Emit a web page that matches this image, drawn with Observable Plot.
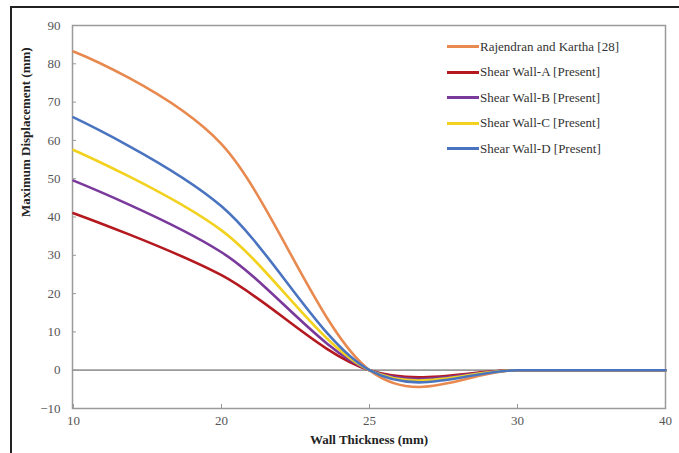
<!DOCTYPE html>
<html>
<head>
<meta charset="utf-8">
<script src="https://cdn.jsdelivr.net/npm/d3@7"></script>
<script src="https://cdn.jsdelivr.net/npm/@observablehq/plot@0.6"></script>
<style>
  html, body { margin: 0; padding: 0; background: #fff; }
  #wrap { position: relative; width: 679px; height: 453px; overflow: hidden; font-family: "Liberation Serif", "DejaVu Serif", serif; }
  #border { position: absolute; left: 10px; top: 6px; width: 700px; height: 500px; border-left: 2px solid #222; border-top: 2px solid #222; box-sizing: border-box; }
  #chart { position: absolute; left: 0; top: 0; }
  #legend { position: absolute; left: 447px; top: 34px; font-size: 13px; color: #333; }
  .row { display: flex; align-items: center; height: 25.5px; }
  .sw { width: 32px; height: 3px; margin-right: 1px; }
</style>
</head>
<body>
<div id="wrap">
  <div id="border"></div>
  <div id="chart"></div>
  <div id="legend"></div>
</div>
<script>
const thickness = [10, 20, 25, 30, 40];
const seriesNames = ["Rajendran and Kartha [28]", "Shear Wall-A [Present]", "Shear Wall-B [Present]", "Shear Wall-C [Present]", "Shear Wall-D [Present]"];
const seriesColors = ["#E8894F", "#B3191F", "#7A3A9C", "#F2D21E", "#4A74C0"];
const rajendran = [83.2, 59, 0, 0, 0];
const wallA = [41, 24.8, 0, 0, 0];
const wallB = [49.5, 30.8, 0, 0, 0];
const wallC = [57.5, 36.5, 0, 0, 0];
const wallD = [66, 42.8, 0, 0, 0];
const yTicks = [-10, 0, 10, 20, 30, 40, 50, 60, 70, 80, 90];

const seriesValues = [rajendran, wallA, wallB, wallC, wallD];
const data = [];
seriesNames.forEach((name, i) => {
  thickness.forEach((t, j) => data.push({series: name, t, v: seriesValues[i][j]}));
});

const plot = Plot.plot({
  width: 679,
  height: 453,
  marginLeft: 72,
  marginRight: 14,
  marginTop: 25,
  marginBottom: 45,
  style: {fontFamily: "'Liberation Serif', serif", fontSize: "13px", color: "#444", background: "transparent"},
  x: {type: "point", domain: thickness, padding: 0},
  y: {domain: [-10, 90]},
  color: {domain: seriesNames, range: seriesColors},
  marks: [
    Plot.frame({stroke: "#9a9a9a", strokeWidth: 1.5}),
    Plot.ruleY([0], {stroke: "#9a9a9a", strokeWidth: 1.8}),
    Plot.axisY({ticks: yTicks, tickSize: -4, tickPadding: 16, stroke: "#999", label: null, fill: "#555"}),
    Plot.axisX({ticks: thickness, tickSize: -4, tickPadding: 11, stroke: "#999", label: null, fill: "#555"}),
    Plot.line(data, {x: "t", y: "v", z: "series", stroke: "series", strokeWidth: 2.6, curve: "cardinal"}),
    Plot.text(["Wall Thickness (mm)"], {frameAnchor: "bottom", dy: 35, text: d => d, fontWeight: "bold", fontSize: 13, fill: "#222"}),
    Plot.text(["Maximum Displacement (mm)"], {frameAnchor: "left", dx: -47, rotate: -90, text: d => d, fontWeight: "bold", fontSize: 13, fill: "#222"})
  ]
});
document.getElementById("chart").appendChild(plot);

const legend = document.getElementById("legend");
seriesNames.forEach((name, i) => {
  const row = document.createElement("div");
  row.className = "row";
  const sw = document.createElement("div");
  sw.className = "sw";
  sw.style.background = seriesColors[i];
  const label = document.createElement("span");
  label.textContent = name;
  row.appendChild(sw);
  row.appendChild(label);
  legend.appendChild(row);
});
</script>
</body>
</html>
